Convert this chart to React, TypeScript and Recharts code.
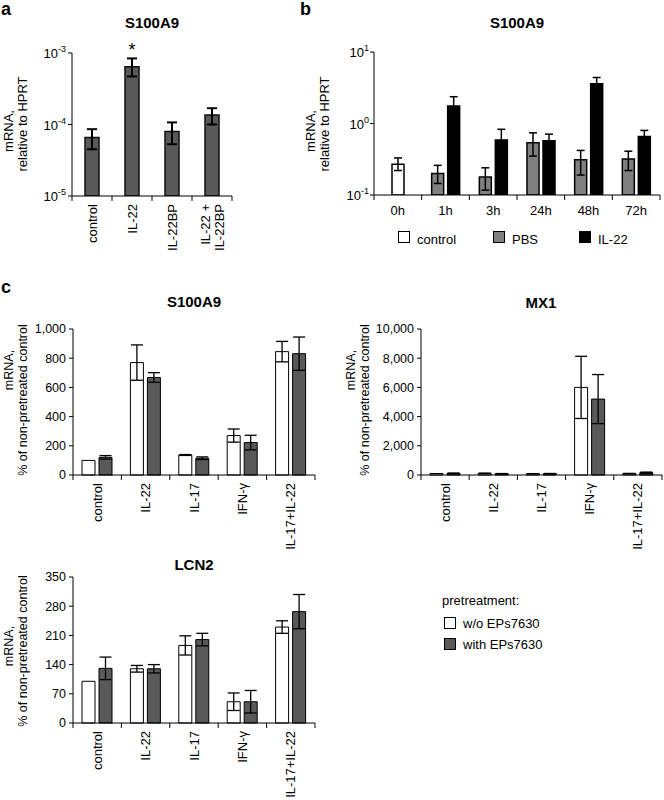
import React from 'react'
import { BarChart, Bar, XAxis, YAxis, ErrorBar, LabelList } from 'recharts'

const FONT = '"Liberation Sans", Arial, Helvetica, sans-serif'
const DARK = '#595959'

// a: S100A9, mRNA relative to HPRT
const aLabels = [['control'], ['IL-22'], ['IL-22BP'], ['IL-22 +', 'IL-22BP']]
const aMean = [6.6e-5, 6.4e-4, 8.0e-5, 1.36e-4]
const aLow = [4.5e-5, 4.7e-4, 5.3e-5, 1.0e-4]
const aHigh = [8.6e-5, 8.4e-4, 1.07e-4, 1.69e-4]
const aSig = ['', '*', '', '']
const aTicks = [1e-5, 1e-4, 1e-3]

// b: S100A9 time course
const bTimes = ['0h', '1h', '3h', '24h', '48h', '72h']
const bControl = [0.27, null, null, null, null, null]
const bControlLow = [0.22, null, null, null, null, null]
const bControlHigh = [0.33, null, null, null, null, null]
const bPbs = [null, 0.2, 0.178, 0.54, 0.31, 0.32]
const bPbsLow = [null, 0.145, 0.117, 0.35, 0.19, 0.22]
const bPbsHigh = [null, 0.26, 0.24, 0.74, 0.42, 0.41]
const bIl22 = [null, 1.76, 0.59, 0.575, 3.6, 0.66]
const bIl22Low = [null, 1.3, 0.42, 0.46, 2.9, 0.54]
const bIl22High = [null, 2.37, 0.83, 0.71, 4.4, 0.8]
const bTicks = [0.1, 1, 10]
const bSeries = [
  { name: 'control', color: '#ffffff' },
  { name: 'PBS', color: '#808080' },
  { name: 'IL-22', color: '#000000' }
]

// c: % of non-pretreated control
const cTreatments = ['control', 'IL-22', 'IL-17', 'IFN-γ', 'IL-17+IL-22']
const cSeries = [
  { name: 'w/o EPs7630', color: '#ffffff' },
  { name: 'with EPs7630', color: DARK }
]

const s100Without = [100, 770, 137, 270, 845]
const s100WithoutErr = [0, 121, 3, 45, 70]
const s100With = [121, 668, 115, 222, 831]
const s100WithErr = [12, 33, 9, 50, 114]
const s100Ticks = [0, 200, 400, 600, 800, 1000]

const mx1Without = [100, 110, 90, 6000, 100]
const mx1WithoutErr = [0, 20, 5, 2130, 10]
const mx1With = [110, 90, 95, 5200, 160]
const mx1WithErr = [25, 10, 10, 1680, 40]
const mx1Ticks = [0, 2000, 4000, 6000, 8000, 10000]

const lcn2Without = [100, 130, 186, 51, 230]
const lcn2WithoutErr = [0, 8, 23, 21, 15]
const lcn2With = [131, 130, 200, 51, 267]
const lcn2WithErr = [27, 10, 15, 27, 41]
const lcn2Ticks = [0, 70, 140, 210, 280, 350]

const asym = (v: number | null, lo: number | null, hi: number | null) =>
  v == null || lo == null || hi == null ? null : [v - lo, hi - v]

const aRows = aLabels.map((l, i) => ({
  cat: l.join(' '),
  value: aMean[i],
  err: asym(aMean[i], aLow[i], aHigh[i]),
  sig: aSig[i]
}))

const bRows = bTimes.map((t, i) => ({
  cat: t,
  control: bControl[i],
  controlErr: asym(bControl[i], bControlLow[i], bControlHigh[i]),
  pbs: bPbs[i],
  pbsErr: asym(bPbs[i], bPbsLow[i], bPbsHigh[i]),
  il22: bIl22[i],
  il22Err: asym(bIl22[i], bIl22Low[i], bIl22High[i])
}))

const cRows = (wo: number[], woErr: number[], w: number[], wErr: number[]) =>
  cTreatments.map((t, i) => ({ cat: t, wo: wo[i], woErr: woErr[i], w: w[i], wErr: wErr[i] }))

function LogTick(props: any) {
  const { x, y, payload } = props
  const exp = Math.round(Math.log10(payload.value))
  return (
    <text x={x} y={y} dy={5} textAnchor="end" fontSize={13} fill="#000" fontFamily={FONT}>
      10<tspan dy={-6} fontSize={9}>{exp}</tspan>
    </text>
  )
}

function RotatedTick(props: any) {
  const { x, y, payload, index, lines, half } = props
  const h = payload && payload.offset > 0 ? payload.offset : half
  const n = lines.length
  return (
    <g>
      {index === 0 && <line x1={x - h} x2={x - h} y1={y} y2={y + 5} stroke="#000" />}
      <line x1={x + h} x2={x + h} y1={y} y2={y + 5} stroke="#000" />
      {lines.map((s: string, k: number) => (
        <text
          key={k}
          transform={`translate(${x + (k - (n - 1) / 2) * 14}, ${y + 8}) rotate(-90)`}
          textAnchor="end"
          dominantBaseline="central"
          fontSize={13}
          fill="#000"
          fontFamily={FONT}
        >
          {s}
        </text>
      ))}
    </g>
  )
}

function FlatTick(props: any) {
  const { x, y, payload, index, half } = props
  const h = payload && payload.offset > 0 ? payload.offset : half
  return (
    <g>
      {index === 0 && <line x1={x - h} x2={x - h} y1={y} y2={y + 5} stroke="#000" />}
      <line x1={x + h} x2={x + h} y1={y} y2={y + 5} stroke="#000" />
      <text x={x} y={y + 20} textAnchor="middle" fontSize={13} fill="#000" fontFamily={FONT}>
        {payload.value}
      </text>
    </g>
  )
}

function SigLabel(props: any) {
  const vb = props.viewBox ?? props
  if (!props.value) return null
  return (
    <text x={vb.x + vb.width / 2} y={vb.y - 11} textAnchor="middle" fontSize={18} fill="#000" fontFamily={FONT}>
      {props.value}
    </text>
  )
}

const axisStyle = { stroke: '#000' }

function PanelA() {
  return (
    <BarChart width={240} height={290} data={aRows} margin={{ top: 53, right: 8, left: 32, bottom: 10 }}>
      <XAxis
        dataKey="cat"
        interval={0}
        height={84}
        axisLine={axisStyle}
        tickLine={false}
        tickSize={0}
        tickMargin={0}
        tick={(p: any) => <RotatedTick {...p} lines={aLabels[p.index]} half={20} />}
      />
      <YAxis
        scale="log"
        domain={[1e-5, 1e-3]}
        ticks={aTicks}
        allowDataOverflow
        width={40}
        axisLine={axisStyle}
        tickLine={axisStyle}
        tickSize={4}
        tickMargin={2}
        tick={<LogTick />}
      />
      <Bar dataKey="value" fill={DARK} stroke="#111" strokeWidth={1.5} barSize={14} isAnimationActive={false}>
        <ErrorBar dataKey="err" direction="y" width={5} stroke="#000" strokeWidth={2} />
        <LabelList dataKey="sig" content={SigLabel} />
      </Bar>
    </BarChart>
  )
}

function PanelB() {
  return (
    <BarChart width={364} height={230} data={bRows} barGap={4} margin={{ top: 52, right: 4, left: 34, bottom: 5 }}>
      <XAxis
        xAxisId="main"
        dataKey="cat"
        interval={0}
        height={30}
        axisLine={axisStyle}
        tickLine={false}
        tickSize={0}
        tickMargin={0}
        tick={(p: any) => <FlatTick {...p} half={23.8} />}
      />
      <XAxis xAxisId="ctrl" dataKey="cat" hide height={0} />
      <YAxis
        scale="log"
        domain={[0.1, 10]}
        ticks={bTicks}
        allowDataOverflow
        width={40}
        axisLine={axisStyle}
        tickLine={axisStyle}
        tickSize={4}
        tickMargin={1}
        tick={<LogTick />}
      />
      <Bar xAxisId="ctrl" dataKey="control" fill={bSeries[0].color} stroke="#000" strokeWidth={1.5} barSize={12} isAnimationActive={false}>
        <ErrorBar dataKey="controlErr" direction="y" width={4} stroke="#000" strokeWidth={1.5} />
      </Bar>
      <Bar xAxisId="main" dataKey="pbs" fill={bSeries[1].color} stroke="#000" strokeWidth={1.5} barSize={12} isAnimationActive={false}>
        <ErrorBar dataKey="pbsErr" direction="y" width={4} stroke="#000" strokeWidth={1.5} />
      </Bar>
      <Bar xAxisId="main" dataKey="il22" fill={bSeries[2].color} stroke="#000" strokeWidth={1.5} barSize={12} isAnimationActive={false}>
        <ErrorBar dataKey="il22Err" direction="y" width={4} stroke="#000" strokeWidth={1.5} />
      </Bar>
    </BarChart>
  )
}

function PanelC(props: any) {
  const { data, ticks, max, width, height, left, right, top, xHeight, yWidth } = props
  const plotW = width - left - right - yWidth
  return (
    <BarChart width={width} height={height} data={data} barGap={4} margin={{ top, right, left, bottom: 5 }}>
      <XAxis
        dataKey="cat"
        interval={0}
        height={xHeight}
        axisLine={axisStyle}
        tickLine={false}
        tickSize={0}
        tickMargin={0}
        tick={(p: any) => <RotatedTick {...p} lines={[p.payload.value]} half={plotW / cTreatments.length / 2} />}
      />
      <YAxis
        domain={[0, max]}
        ticks={ticks}
        width={yWidth}
        axisLine={axisStyle}
        tickLine={axisStyle}
        tickSize={4}
        tickMargin={3}
        tickFormatter={(v: number) => v.toLocaleString('en-US')}
        tick={{ fontSize: 12.5, fill: '#000', fontFamily: FONT }}
      />
      <Bar dataKey="wo" fill={cSeries[0].color} stroke="#000" strokeWidth={1} barSize={13} isAnimationActive={false}>
        <ErrorBar dataKey="woErr" direction="y" width={6} stroke="#000" strokeWidth={1.3} />
      </Bar>
      <Bar dataKey="w" fill={cSeries[1].color} stroke="#000" strokeWidth={1} barSize={13} isAnimationActive={false}>
        <ErrorBar dataKey="wErr" direction="y" width={6} stroke="#000" strokeWidth={1.3} />
      </Bar>
    </BarChart>
  )
}

function RotLabel({ x, y, children, size = 13 }: any) {
  return (
    <text transform={`translate(${x}, ${y}) rotate(-90)`} textAnchor="middle" fontSize={size} fill="#000" fontFamily={FONT}>
      {children}
    </text>
  )
}

function Title({ x, y, children }: any) {
  return (
    <text x={x} y={y} textAnchor="middle" fontSize={15} fontWeight="bold" fill="#000" fontFamily={FONT}>
      {children}
    </text>
  )
}

function Overlay() {
  return (
    <svg width={664} height={800} style={{ position: 'absolute', left: 0, top: 0, pointerEvents: 'none' }}>
      <text x={1} y={15} fontSize={18} fontWeight="bold" fontFamily={FONT}>a</text>
      <text x={300} y={15} fontSize={18} fontWeight="bold" fontFamily={FONT}>b</text>
      <text x={1} y={293} fontSize={18} fontWeight="bold" fontFamily={FONT}>c</text>

      <Title x={152} y={28}>S100A9</Title>
      <Title x={517} y={28}>S100A9</Title>
      <Title x={194} y={307}>S100A9</Title>
      <Title x={541} y={308}>MX1</Title>
      <Title x={194} y={570}>LCN2</Title>

      <RotLabel x={13} y={131}>mRNA,</RotLabel>
      <RotLabel x={27} y={124}>relative to HPRT</RotLabel>
      <RotLabel x={315} y={131}>mRNA,</RotLabel>
      <RotLabel x={329} y={124}>relative to HPRT</RotLabel>

      <RotLabel x={13} y={370} size={12.5}>mRNA,</RotLabel>
      <RotLabel x={27} y={400} size={12.5}>% of non-pretreated control</RotLabel>
      <RotLabel x={355} y={370} size={12.5}>mRNA,</RotLabel>
      <RotLabel x={369} y={400} size={12.5}>% of non-pretreated control</RotLabel>
      <RotLabel x={13} y={646} size={12.5}>mRNA,</RotLabel>
      <RotLabel x={27} y={651} size={12.5}>% of non-pretreated control</RotLabel>

      {bSeries.map((s, i) => {
        const x0 = [398, 493, 579][i]
        return (
          <g key={s.name}>
            <rect x={x0 + 0.5} y={231.5} width={11} height={11} fill={s.color} stroke="#000" strokeWidth={1} />
            <text x={x0 + 19} y={244} fontSize={13} fill="#000" fontFamily={FONT}>{s.name}</text>
          </g>
        )
      })}

      <text x={442} y={605} fontSize={13} fill="#000" fontFamily={FONT}>pretreatment:</text>
      {cSeries.map((s, i) => (
        <g key={s.name}>
          <rect x={444.5} y={617.5 + i * 21} width={11} height={11} fill={s.color} stroke="#000" strokeWidth={1} />
          <text x={463} y={628 + i * 21} fontSize={13} fill="#000" fontFamily={FONT}>{s.name}</text>
        </g>
      ))}
    </svg>
  )
}

export default function App() {
  return (
    <div style={{ position: 'absolute', left: 0, top: 0, width: 664, height: 800, background: '#fff', fontFamily: FONT }}>
      <div style={{ position: 'absolute', left: 0, top: 0 }}>
        <PanelA />
      </div>
      <div style={{ position: 'absolute', left: 300, top: 0 }}>
        <PanelB />
      </div>
      <div style={{ position: 'absolute', left: 0, top: 300 }}>
        <PanelC
          data={cRows(s100Without, s100WithoutErr, s100With, s100WithErr)}
          ticks={s100Ticks}
          max={1000}
          width={330}
          height={270}
          left={13}
          right={15}
          top={29}
          xHeight={90}
          yWidth={60}
        />
      </div>
      <div style={{ position: 'absolute', left: 340, top: 300 }}>
        <PanelC
          data={cRows(mx1Without, mx1WithoutErr, mx1With, mx1WithErr)}
          ticks={mx1Ticks}
          max={10000}
          width={324}
          height={270}
          left={21}
          right={2}
          top={29}
          xHeight={90}
          yWidth={60}
        />
      </div>
      <div style={{ position: 'absolute', left: 0, top: 550 }}>
        <PanelC
          data={cRows(lcn2Without, lcn2WithoutErr, lcn2With, lcn2WithErr)}
          ticks={lcn2Ticks}
          max={350}
          width={330}
          height={250}
          left={13}
          right={15}
          top={27}
          xHeight={72}
          yWidth={60}
        />
      </div>
      <Overlay />
    </div>
  )
}
